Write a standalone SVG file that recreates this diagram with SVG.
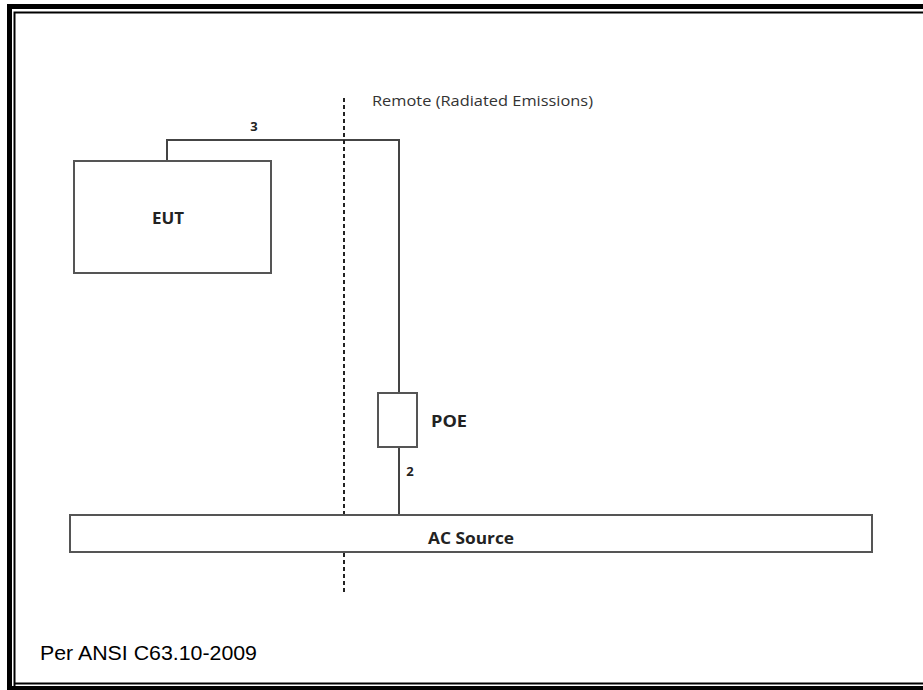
<svg xmlns="http://www.w3.org/2000/svg" width="923" height="690" viewBox="0 0 923 690">
<style>
.box{fill:#fff;stroke:#555;stroke-width:2}
.wire{fill:none;stroke:#444;stroke-width:2}
.lbl{font-family:"Open Sans","Liberation Sans",sans-serif;font-weight:bold;fill:#222}
.note{font-family:"Open Sans","Liberation Sans",sans-serif;fill:#333}
</style>
<rect width="923" height="690" fill="#fff"/>
<g id="frame">
<rect x="7" y="4" width="930" height="5" fill="#000"/>
<rect x="7" y="4" width="5" height="700" fill="#000"/>
<rect x="7" y="686" width="930" height="5" fill="#000"/>
<path d="M14.5 700 V12.5 H930" fill="none" stroke="#000" stroke-width="2"/>
<path d="M14.5 683.5 H930" fill="none" stroke="#000" stroke-width="2"/>
</g>
<g id="connectors">
<path class="wire" d="M167 161 V140 H399 V393"/>
<path class="wire" d="M399 447 V515"/>
<line x1="344" y1="98" x2="344" y2="594" stroke="#222" stroke-width="2" stroke-dasharray="4 3"/>
</g>
<g id="eut">
<rect class="box" x="74" y="161" width="197" height="112"/>
<text class="lbl" x="152" y="224" font-size="16" textLength="32" lengthAdjust="spacingAndGlyphs">EUT</text>
</g>
<g id="poe">
<rect class="box" x="378" y="393" width="39" height="54"/>
<text class="lbl" x="431" y="427" font-size="16" textLength="36" lengthAdjust="spacingAndGlyphs">POE</text>
</g>
<g id="ac">
<rect class="box" x="70" y="515" width="802" height="37"/>
<text class="lbl" x="428" y="544" font-size="16" textLength="86" lengthAdjust="spacingAndGlyphs">AC Source</text>
</g>
<g id="labels">
<text class="lbl" x="254" y="131" font-size="13" text-anchor="middle">3</text>
<text class="lbl" x="410" y="476" font-size="13" text-anchor="middle">2</text>
<text class="note" x="372" y="106" font-size="14" textLength="221" lengthAdjust="spacingAndGlyphs">Remote (Radiated Emissions)</text>
<text x="40" y="660" font-family="Liberation Sans, Arial, sans-serif" font-size="20" fill="#000" textLength="217" lengthAdjust="spacingAndGlyphs">Per ANSI C63.10-2009</text>
</g>
</svg>
